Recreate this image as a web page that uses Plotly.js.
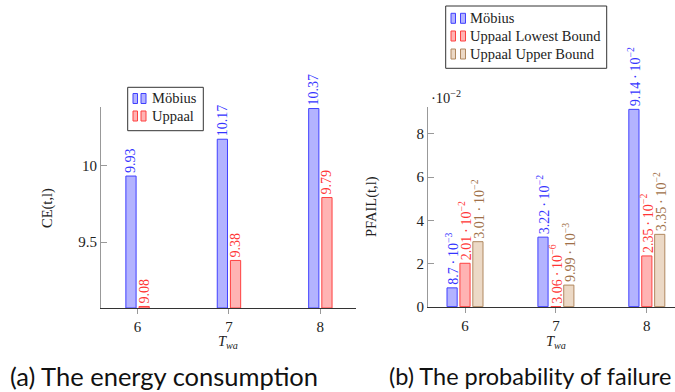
<!DOCTYPE html>
<html>
<head>
<meta charset="utf-8">
<script src="https://cdn.plot.ly/plotly-3.0.1.min.js"></script>
<style>html,body{margin:0;padding:0;background:#fff;}#chart{width:675px;height:392px;}</style>
</head>
<body>
<div id="chart"></div>
<script>
// ---- data ----
const categories = [6, 7, 8];
const seriesNamesCE = ['Möbius', 'Uppaal'];
const ceMobius = [9.93, 10.17, 10.37];
const ceUppaal = [9.08, 9.38, 9.79];

const seriesNamesPF = ['Möbius', 'Uppaal Lowest Bound', 'Uppaal Upper Bound'];
// values in units of 10^-2
const pfMobius = [0.87, 3.22, 9.14];
const pfUppaalLow = [2.01, 0.000306, 2.35];
const pfUppaalUp = [3.01, 0.999, 3.35];
const pfMobiusLabels = ['8.7\u2009·\u200910<sup>−3</sup>', '3.22\u2009·\u200910<sup>−2</sup>', '9.14\u2009·\u200910<sup>−2</sup>'];
const pfUppaalLowLabels = ['2.01\u2009·\u200910<sup>−2</sup>', '3.06\u2009·\u200910<sup>−6</sup>', '2.35\u2009·\u200910<sup>−2</sup>'];
const pfUppaalUpLabels = ['3.01\u2009·\u200910<sup>−2</sup>', '9.99\u2009·\u200910<sup>−3</sup>', '3.35\u2009·\u200910<sup>−2</sup>'];
const ceTicks = [9.5, 10];
const ceTickText = ['9.5', '10'];
const pfTicks = [0, 2, 4, 6, 8];

// ---- styles ----
const W = 675, H = 392;
const px = x => x / W;
const py = y => 1 - y / H;
const serif = 'Liberation Serif, Times New Roman, serif';
const blue = {fill: '#b3b3ff', line: '#4040ff', text: '#3535ff'};
const red = {fill: '#ffb3b3', line: '#ff4040', text: '#ff3535'};
const brown = {fill: '#ecd9c6', line: '#b08860', text: '#a07048'};
const CE_MIN = 9.07;
const BW = 0.112;

function barTrace(name, y, text, col, xa, ya, offset, base) {
  const t = {
    type: 'bar', name: name, x: categories, y: y,
    xaxis: xa, yaxis: ya,
    width: BW, offset: offset,
    marker: {color: col.fill, line: {color: col.line, width: 1}},
    text: text, textposition: 'outside', textangle: -90,
    textfont: {family: serif, size: 14, color: col.text},
    constraintext: 'none', cliponaxis: false,
    showlegend: false, hoverinfo: 'skip'
  };
  if (base !== undefined) { t.base = base; t.y = y.map(v => v - base); }
  return t;
}

const data = [
  barTrace(seriesNamesCE[0], ceMobius, ceMobius.map(v => v.toFixed(2)), blue, 'x', 'y', -0.128, CE_MIN),
  barTrace(seriesNamesCE[1], ceUppaal, ceUppaal.map(v => v.toFixed(2)), red, 'x', 'y', 0.016, CE_MIN),
  barTrace(seriesNamesPF[0], pfMobius, pfMobiusLabels, blue, 'x2', 'y2', -0.198),
  barTrace(seriesNamesPF[1], pfUppaalLow, pfUppaalLowLabels, red, 'x2', 'y2', -0.056),
  barTrace(seriesNamesPF[2], pfUppaalUp, pfUppaalUpLabels, brown, 'x2', 'y2', 0.086)
];

const tickFont = {family: serif, size: 15, color: '#222'};
const xCommon = {
  tickvals: categories, ticks: 'outside', ticklen: 5, tickcolor: '#999', tickwidth: 1,
  showline: true, linecolor: '#333', linewidth: 1, showgrid: false, zeroline: false,
  tickfont: tickFont, fixedrange: true
};
const yCommon = {
  ticks: 'inside', ticklen: 6, tickcolor: '#999', tickwidth: 1,
  showline: true, linecolor: '#999', linewidth: 1, showgrid: false, zeroline: false,
  tickfont: tickFont, fixedrange: true
};

// legend (drawn manually to mimic pgfplots bar legend)
const shapes = [];
const annotations = [];
function legend(box, rows, names, cols, sw1, sw2, textX) {
  shapes.push({type: 'rect', xref: 'paper', yref: 'paper', x0: px(box[0]), x1: px(box[1]), y0: py(box[2]), y1: py(box[3]),
    line: {color: '#333', width: 1}, fillcolor: 'rgba(255,255,255,1)', layer: 'above'});
  rows.forEach((ry, i) => {
    [sw1, sw2].forEach(sw => {
      shapes.push({type: 'rect', xref: 'paper', yref: 'paper', x0: px(sw[0]), x1: px(sw[1]), y0: py(ry + 5), y1: py(ry - 5),
        line: {color: cols[i].line, width: 1}, fillcolor: cols[i].fill, layer: 'above'});
    });
    annotations.push({xref: 'paper', yref: 'paper', x: px(textX), y: py(ry), xanchor: 'left', yanchor: 'middle',
      text: names[i], showarrow: false, font: {family: serif, size: 14.5, color: '#222'}});
  });
}
legend([127.7, 203.3, 87.3, 130.7], [98.5, 116], seriesNamesCE, [blue, red], [133, 137.5], [141, 146], 150);
legend([445.7, 606.7, 6, 68.3], [18.3, 36, 54], seriesNamesPF, [blue, red, brown], [451, 455.5], [460.5, 465.5], 468);

// axis titles and captions
function ann(x, y, text, font, extra) {
  annotations.push(Object.assign({xref: 'paper', yref: 'paper', x: px(x), y: py(y), text: text, showarrow: false,
    xanchor: 'center', yanchor: 'middle', font: font}, extra || {}));
}
const titleFont = {family: serif, size: 14.5, color: '#222'};
ann(228.5, 342, '<i>T<sub>wa</sub></i>', titleFont);
ann(556, 342, '<i>T<sub>wa</sub></i>', titleFont);
ann(47, 208, 'CE(t,l)', titleFont, {textangle: -90});
ann(372, 207, 'PFAIL(t,l)', titleFont, {textangle: -90});
ann(429, 97, '·10<sup>−2</sup>', titleFont, {xanchor: 'left'});
ann(8, 376, '(a) The energy consumption', {family: 'Lato, Carlito, sans-serif', size: 25.5, color: '#111'}, {xanchor: 'left'});
ann(387, 376, '(b) The probability of failure', {family: 'Lato, Carlito, sans-serif', size: 23.5, color: '#111'}, {xanchor: 'left'});

const layout = {
  width: W, height: H,
  margin: {l: 0, r: 0, t: 0, b: 0},
  paper_bgcolor: '#fff', plot_bgcolor: 'rgba(0,0,0,0)',
  barmode: 'overlay',
  showlegend: false,
  xaxis: Object.assign({}, xCommon, {domain: [px(101), px(356)], range: [5.6, 8.39], anchor: 'y'}),
  yaxis: Object.assign({}, yCommon, {domain: [py(308), py(107)], range: [CE_MIN, 10.38], tickvals: ceTicks, ticktext: ceTickText, anchor: 'x'}),
  xaxis2: Object.assign({}, xCommon, {domain: [px(428), 1], range: [5.593, 8.31], anchor: 'y2'}),
  yaxis2: Object.assign({}, yCommon, {domain: [py(307.3), py(107)], range: [-0.03, 9.25], tickvals: pfTicks, anchor: 'x2'}),
  shapes: shapes,
  annotations: annotations
};

Plotly.newPlot('chart', data, layout, {displayModeBar: false, staticPlot: true});
</script>
</body>
</html>
